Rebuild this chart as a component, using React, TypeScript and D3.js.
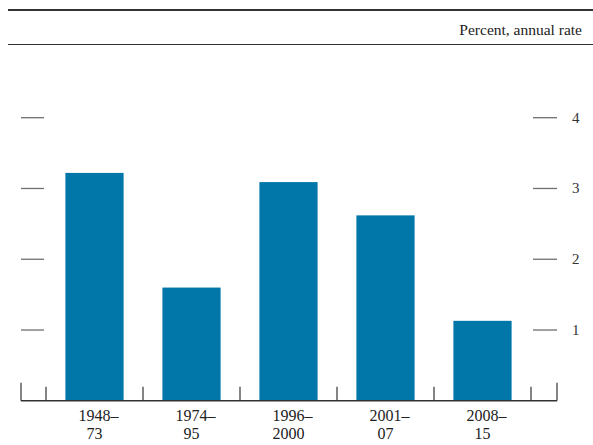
import React, { useEffect, useRef } from 'react';
import * as d3 from 'd3';

// Chart data
const periodStarts: string[] = ["1948", "1974", "1996", "2001", "2008"];
const periodEnds: string[] = ["73", "95", "2000", "07", "15"];
const growthRates: number[] = [3.22, 1.6, 3.09, 2.62, 1.13];
const yTicks: number[] = [1, 2, 3, 4];
const unitsLabel = "Percent, annual rate";

const App: React.FC = () => {
  const svgRef = useRef<SVGSVGElement | null>(null);

  useEffect(() => {
    if (!svgRef.current) return;
    const svg = d3.select(svgRef.current);
    svg.selectAll("*").remove();

    const width = 593;
    const height = 445;
    const font = "'Liberation Serif', 'Times New Roman', serif";
    const barColor = "#0076a9";

    svg.attr("width", width).attr("height", height).attr("viewBox", `0 0 ${width} ${height}`);

    // Header rules and units
    svg.append("line")
      .attr("x1", 8).attr("x2", width)
      .attr("y1", 10).attr("y2", 10)
      .attr("stroke", "#333").attr("stroke-width", 2.2);

    svg.append("line")
      .attr("x1", 8).attr("x2", width)
      .attr("y1", 44.5).attr("y2", 44.5)
      .attr("stroke", "#333").attr("stroke-width", 1.1);

    svg.append("text")
      .attr("x", 582).attr("y", 35)
      .attr("text-anchor", "end")
      .attr("font-family", font)
      .attr("font-size", 15.5)
      .attr("fill", "#222")
      .text(unitsLabel);

    // Scales
    const x = d3.scaleBand<number>()
      .domain(d3.range(growthRates.length))
      .range([46, 531])
      .paddingInner(0.4)
      .paddingOuter(0.2);

    const y = d3.scaleLinear()
      .domain([0, 4])
      .range([400.8, 117.7]);

    const axisLeft = 21;
    const axisRight = 557;

    // Y ticks on both sides
    const tickG = svg.append("g");
    yTicks.forEach(t => {
      tickG.append("line")
        .attr("x1", axisLeft).attr("x2", 44)
        .attr("y1", y(t)).attr("y2", y(t))
        .attr("stroke", "#6f6f6f").attr("stroke-width", 1.3);
      tickG.append("line")
        .attr("x1", 533).attr("x2", axisRight)
        .attr("y1", y(t)).attr("y2", y(t))
        .attr("stroke", "#6f6f6f").attr("stroke-width", 1.3);
      tickG.append("text")
        .attr("x", 572)
        .attr("y", y(t))
        .attr("dy", "0.33em")
        .attr("font-family", font)
        .attr("font-size", 15)
        .attr("fill", "#333")
        .text(String(t));
    });

    // Bars
    svg.append("g")
      .selectAll("rect")
      .data(growthRates)
      .enter()
      .append("rect")
      .attr("x", (_d, i) => x(i) as number)
      .attr("width", x.bandwidth())
      .attr("y", d => y(d))
      .attr("height", d => y(0) - y(d))
      .attr("fill", barColor);

    // Baseline and category separator ticks
    const base = y(0);
    svg.append("line")
      .attr("x1", axisLeft).attr("x2", axisRight)
      .attr("y1", base).attr("y2", base)
      .attr("stroke", "#333").attr("stroke-width", 1.4);

    [axisLeft, axisRight].forEach(px => {
      svg.append("line")
        .attr("x1", px).attr("x2", px)
        .attr("y1", base - 18).attr("y2", base)
        .attr("stroke", "#333").attr("stroke-width", 1.2);
    });

    const start = x.range()[0];
    d3.range(growthRates.length + 1).forEach(i => {
      const px = start + i * x.step();
      svg.append("line")
        .attr("x1", px).attr("x2", px)
        .attr("y1", base - 14).attr("y2", base)
        .attr("stroke", "#333").attr("stroke-width", 1.2);
    });

    // Category labels (two lines each)
    periodStarts.forEach((s, i) => {
      const cx = (x(i) as number) + x.bandwidth() / 2;
      svg.append("text")
        .attr("x", cx + 4)
        .attr("y", 420.5)
        .attr("font-family", font)
        .attr("font-size", 16)
        .attr("fill", "#222")
        .attr("text-anchor", "middle")
        .text(`${s}–`);
      svg.append("text")
        .attr("x", cx)
        .attr("y", 438.5)
        .attr("font-family", font)
        .attr("font-size", 16)
        .attr("fill", "#222")
        .attr("text-anchor", "middle")
        .text(periodEnds[i]);
    });
  }, []);

  return (
    <svg ref={svgRef} style={{ position: "absolute", left: 0, top: 0, background: "#fff" }}></svg>
  );
};

export default App;
